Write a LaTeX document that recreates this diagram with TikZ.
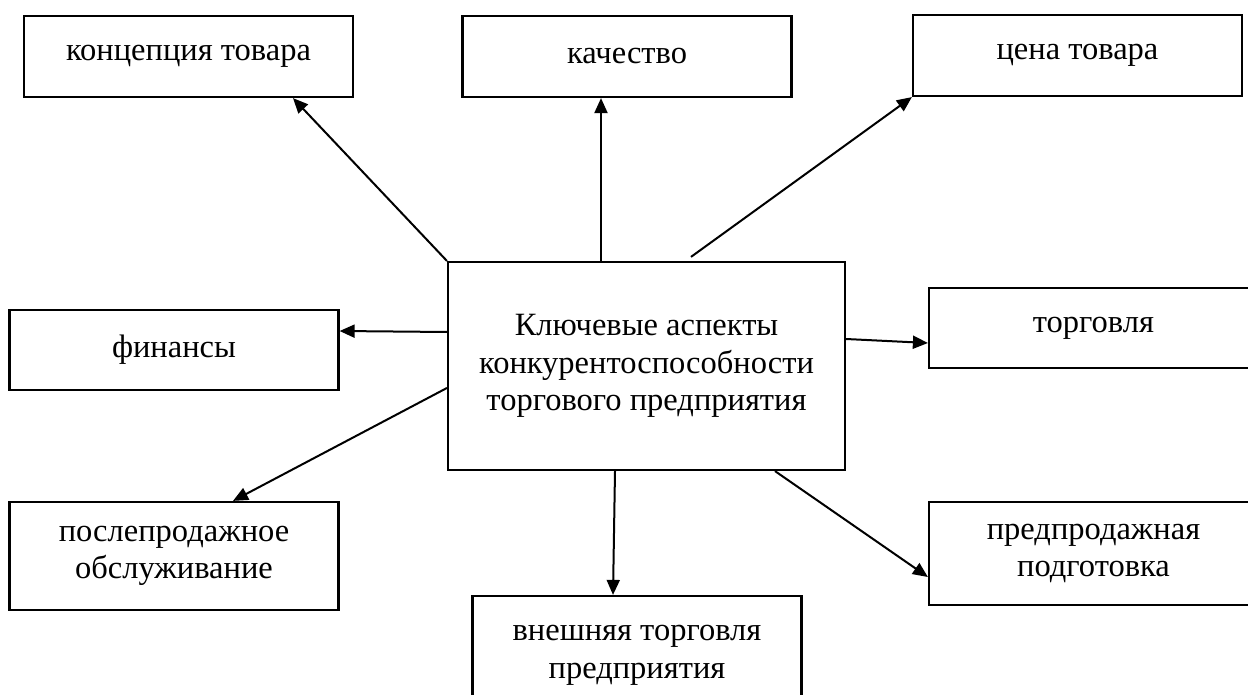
\documentclass[tikz,border=0pt]{standalone}
\usepackage{fontspec}
\setmainfont{Liberation Serif}
\usetikzlibrary{arrows.meta}

\begin{document}
\begin{tikzpicture}[x=1pt,y=-1pt]
% Стили
\tikzstyle{cadre}=[draw,line width=2.2pt,align=center,inner sep=0pt,font=\fontsize{32.5}{37.5}\selectfont]
\tikzstyle{fleche}=[-{Triangle[length=15pt,width=13pt]},line width=2pt]
% Размеры блоков
\def\Lrg{329pt}
\def\HtA{81pt}
% Границы рисунка
\useasboundingbox (0,0) rectangle (1248,695);
% Центральный блок
\node[cadre,minimum width=397pt,minimum height=208pt] (centre) at (646.5,366) {Ключевые аспекты\\конкурентоспособности\\торгового предприятия};
% Верхний ряд
\node[cadre,minimum width=\Lrg,minimum height=\HtA] (concept) at (188.5,56.5) {концепция товара};
\node[cadre,minimum width=\Lrg,minimum height=\HtA] (qualite) at (627,56.5) {качество};
\node[cadre,minimum width=\Lrg,minimum height=\HtA] (prix) at (1077.5,55.5) {цена товара};
% Средний ряд
\node[cadre,minimum width=\Lrg,minimum height=80pt] (finance) at (174,350) {финансы};
\node[cadre,minimum width=\Lrg,minimum height=80pt] (commerce) at (1093.5,328) {торговля};
% Нижний ряд
\node[cadre,minimum width=\Lrg,minimum height=108pt] (apres) at (174,556) {послепродажное\\обслуживание};
\node[cadre,minimum width=\Lrg,minimum height=119pt] (exterieur) at (637,655.5) {внешняя торговля\\предприятия};
\node[cadre,minimum width=\Lrg,minimum height=103pt] (avant) at (1093.5,553.5) {предпродажная\\подготовка};
% Стрелки
\draw[fleche] (centre.north west) -- ([xshift=104.5pt]concept.south);
\draw[fleche] ([xshift=-45.5pt]centre.north) -- ([xshift=-45.5pt]centre.north |- qualite.south);
\draw[fleche] ([xshift=44.5pt,yshift=4pt]centre.north) -- (prix.south west);
\draw[fleche] ([yshift=34pt]centre.west) -- ([yshift=19pt]finance.east);
\draw[fleche] ([yshift=27pt]centre.east) -- ([yshift=-15pt]commerce.west);
\draw[fleche] ([yshift=-22pt]centre.west) -- ([xshift=59pt]apres.north);
\draw[fleche] ([xshift=-31.5pt]centre.south) -- ([xshift=-24pt]exterieur.north);
\draw[fleche] ([xshift=128.5pt]centre.south) -- ([yshift=-23.5pt]avant.west);
\end{tikzpicture}
\end{document}
